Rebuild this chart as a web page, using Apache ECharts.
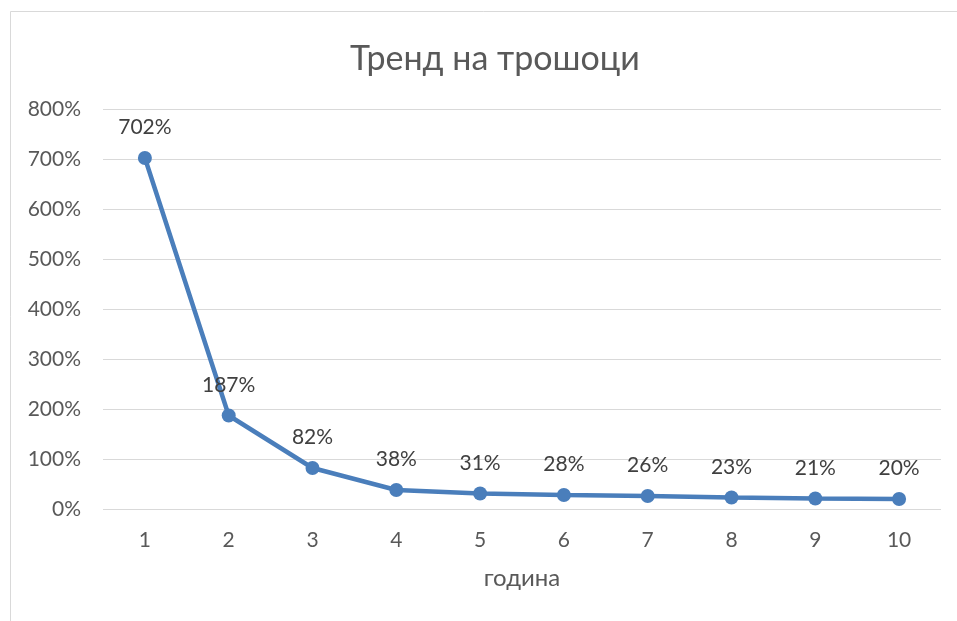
<!DOCTYPE html>
<html>
<head>
<meta charset="utf-8">
<script src="https://cdn.jsdelivr.net/npm/echarts@6/dist/echarts.min.js"></script>
<style>html,body{margin:0;padding:0;background:#fff}#c{width:957px;height:621px}</style>
</head>
<body>
<div id="c"></div>
<script>
var categories = ['1','2','3','4','5','6','7','8','9','10'];
var values = [702, 187, 82, 38, 31, 28, 26, 23, 21, 20];
var titleText = 'Тренд на трошоци';
var xName = 'година';

var chart = echarts.init(document.getElementById('c'));
var font = 'Lato, "Open Sans", sans-serif';
chart.setOption({
  animation: false,
  backgroundColor: '#fff',
  title: {
    text: titleText, left: 490, top: 37, textAlign: 'center',
    textStyle: {fontFamily: font, fontSize: 34, fontWeight: 'normal', color: '#595959'}
  },
  graphic: [{
    type: 'polyline', silent: true,
    shape: {points: [[10.5, 621], [10.5, 11.5], [957, 11.5]]},
    style: {stroke: '#d9d9d9', lineWidth: 1, fill: null}
  }],
  grid: {left: 103, right: 16, top: 109, bottom: 112},
  xAxis: {
    type: 'category', data: categories, boundaryGap: true,
    name: xName, nameLocation: 'middle', nameGap: 57,
    nameTextStyle: {fontFamily: font, fontSize: 24, color: '#595959'},
    axisLine: {show: false}, axisTick: {show: false},
    axisLabel: {fontFamily: font, fontSize: 21, color: '#595959', margin: 21}
  },
  yAxis: {
    type: 'value', min: 0, max: 800, interval: 100,
    axisLine: {show: false}, axisTick: {show: false},
    axisLabel: {fontFamily: font, fontSize: 21, color: '#595959', margin: 22, formatter: '{value}%'},
    splitLine: {lineStyle: {color: '#d9d9d9', width: 1}}
  },
  series: [{
    type: 'line', data: values,
    symbol: 'circle', symbolSize: 14,
    lineStyle: {color: '#4a7ebb', width: 4.5},
    itemStyle: {color: '#4a7ebb'},
    label: {show: true, position: 'top', distance: 13, formatter: '{c}%',
      fontFamily: font, fontSize: 21, color: '#404040'}
  }]
});
</script>
</body>
</html>
